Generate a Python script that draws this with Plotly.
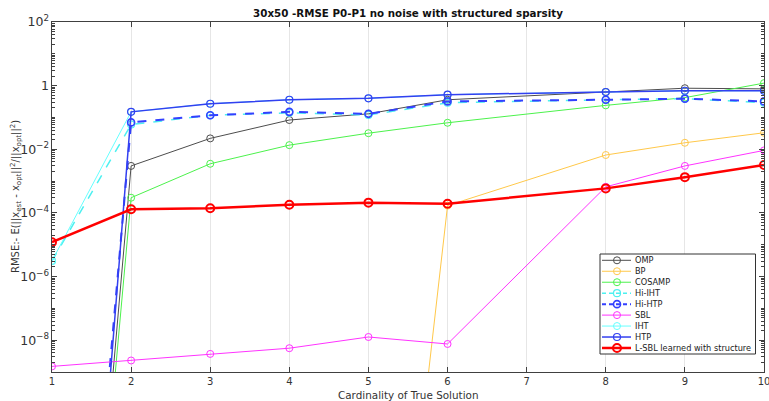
import plotly.graph_objects as go

x_vals = [1, 2, 3, 4, 5, 6, 8, 9, 10]

omp = [1e-31, 0.003, 0.022, 0.083, 0.13, 0.36, 0.63, 0.83, 0.79]
bp = [1e-26, 1e-26, 1e-26, 1e-26, 2.5e-26, 1.7e-4, 0.0066, 0.016, 0.033]
cosamp = [1e-31, 3e-4, 0.0035, 0.0135, 0.032, 0.068, 0.24, 0.42, 1.2]
hi_iht = [3.1e-6, 0.06, 0.117, 0.14, 0.12, 0.29, 0.36, 0.39, 0.29]
hi_htp = [2e-30, 0.07, 0.117, 0.15, 0.13, 0.32, 0.36, 0.39, 0.32]
sbl = [1.5e-9, 2.3e-9, 3.7e-9, 5.6e-9, 1.26e-8, 7.6e-9, 6.6e-4, 0.003, 0.0092]
iht = [3.1e-6, 0.15, 0.27, 0.36, 0.40, 0.52, 0.63, 0.69, 0.69]
htp = [5e-33, 0.15, 0.27, 0.36, 0.40, 0.52, 0.63, 0.69, 0.69]
lsbl = [1.2e-5, 1.3e-4, 1.4e-4, 1.8e-4, 2.1e-4, 1.95e-4, 5.9e-4, 1.33e-3, 3.2e-3]

series_names = ["OMP", "BP", "COSAMP", "Hi-IHT", "Hi-HTP", "SBL", "IHT", "HTP",
                "L-SBL learned with structure"]
series_values = [omp, bp, cosamp, hi_iht, hi_htp, sbl, iht, htp, lsbl]

x_title = "Cardinality of True Solution"
y_title = ("RMSE:- E(||x<sub>est</sub> - x<sub>opt</sub>||<sup>2</sup>/"
           "||x<sub>opt</sub>||<sup>2</sup>)")
chart_title = "<b>30x50 -RMSE P0-P1 no noise with structured sparsity</b>"

# styles
colors = ["#4d4d4d", "#ffc84a", "#4cf24c", "#4df0f0", "#3340ff", "#ff33ff",
          "#66ffff", "#3340f0", "#ff0000"]
widths = [1, 1, 1, 1.5, 2, 1, 1, 1.5, 2.5]
dashes = ["solid", "solid", "solid", "dash", "dash", "solid", "solid", "solid", "solid"]
msizes = [7, 7, 7, 7, 7, 7, 7, 7, 8]

fig = go.Figure()
for name, vals, color, lw, dash, ms in zip(series_names, series_values, colors,
                                          widths, dashes, msizes):
    fig.add_trace(go.Scatter(
        x=x_vals, y=vals, name=name, mode="lines+markers",
        line=dict(color=color, width=lw, dash=dash),
        marker=dict(symbol="circle-open", size=ms, color=color,
                    line=dict(width=max(1, lw * 0.8), color=color)),
        showlegend=False,
    ))

# plot area in pixels
plot_l, plot_r, plot_t, plot_b = 52, 764, 22, 372
pw, ph = plot_r - plot_l, plot_b - plot_t


def px(xp):
    return (xp - plot_l) / pw


def py(yp):
    return (plot_b - yp) / ph


# custom compact legend (layout positions in paper coordinates)
shapes = []
annotations = []
shapes.append(dict(type="rect", xref="paper", yref="paper",
                   x0=px(600), x1=px(755.5), y0=py(354), y1=py(254),
                   fillcolor="white", line=dict(color="#333333", width=1),
                   layer="above"))
row0, row_step = 260.3, 10.96
for i, (name, color, lw, dash) in enumerate(zip(series_names, colors, widths, dashes)):
    yy = row0 + i * row_step
    shapes.append(dict(type="line", xref="paper", yref="paper",
                       x0=px(602), x1=px(631), y0=py(yy), y1=py(yy),
                       line=dict(color=color, width=lw,
                                 dash=dash if dash == "solid" else "4px,3px"),
                       layer="above"))
    r = 3.5 if i < 8 else 4
    shapes.append(dict(type="circle", xref="paper", yref="paper",
                       xsizemode="pixel", ysizemode="pixel",
                       xanchor=px(617), yanchor=py(yy),
                       x0=-r, x1=r, y0=-r, y1=r,
                       fillcolor="rgba(0,0,0,0)",
                       line=dict(color=color, width=max(1, lw * 0.8)),
                       layer="above"))
    annotations.append(dict(xref="paper", yref="paper", x=px(632.5), y=py(yy),
                            xanchor="left", yanchor="middle", showarrow=False,
                            text=name, font=dict(size=8.2, color="#222222")))

# axis titles as annotations for exact placement
annotations.append(dict(xref="paper", yref="paper", x=0.5, y=py(394.5),
                        xanchor="center", yanchor="middle", showarrow=False,
                        text=x_title, font=dict(size=10.4, color="#333333")))
annotations.append(dict(xref="paper", yref="paper", x=px(16), y=0.5,
                        xanchor="center", yanchor="middle", showarrow=False,
                        textangle=-90, text=y_title,
                        font=dict(size=10, color="#333333")))

axis_color = "#404040"
fig.update_layout(
    width=769, height=401,
    margin=dict(l=plot_l, r=769 - plot_r, t=plot_t, b=401 - plot_b, autoexpand=False),
    paper_bgcolor="white", plot_bgcolor="white",
    font=dict(family="DejaVu Sans", size=10, color="#333333"),
    title=dict(text=chart_title, x=0.5, xref="paper",
               y=1 - 13 / 401, yanchor="middle",
               font=dict(size=10.3, color="#111111")),
    showlegend=False,
    shapes=shapes,
    annotations=annotations,
    xaxis=dict(range=[1, 10], tickvals=list(range(1, 11)),
               showgrid=True, gridcolor="#e6e6e6", gridwidth=1,
               ticks="inside", ticklen=5, tickcolor=axis_color,
               showline=True, linecolor=axis_color, mirror="ticks",
               zeroline=False, automargin=False, ticklabeloverflow="allow"),
    yaxis=dict(type="log", range=[-9, 2], dtick=2, tick0=0,
               exponentformat="power", showgrid=False,
               ticks="inside", ticklen=5, tickcolor=axis_color,
               showline=True, linecolor=axis_color, mirror="ticks",
               zeroline=False, automargin=False,
               minor=dict(dtick="D1", ticks="inside", ticklen=3,
                          tickcolor=axis_color, showgrid=False)),
)

fig.write_html("out.html",
               config={"displayModeBar": False},
               post_script="document.body.style.margin='0px';"
                           "document.body.style.overflow='hidden';")
